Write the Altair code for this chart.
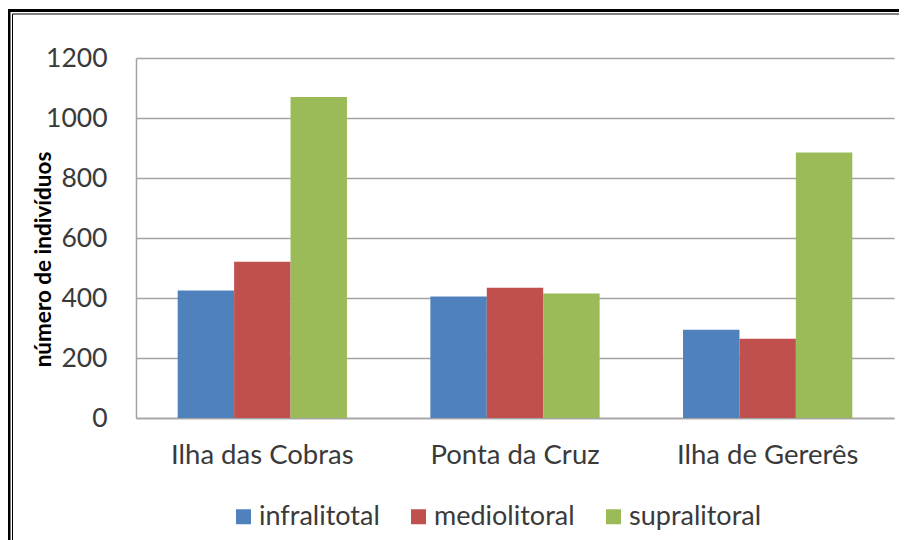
import altair as alt
import pandas as pd

sites = ["Ilha das Cobras", "Ponta da Cruz", "Ilha de Gererês"]
zones = ["infralitotal", "mediolitoral", "supralitoral"]
infralitotal = [425, 405, 294]
mediolitoral = [521, 434, 264]
supralitoral = [1070, 415, 885]
colors = ["#4F81BD", "#C0504D", "#9BBB59"]
y_ticks = [0, 200, 400, 600, 800, 1000, 1200]

rows = []
for z, vals in zip(zones, [infralitotal, mediolitoral, supralitoral]):
    for s, v in zip(sites, vals):
        rows.append({"local": s, "zona": z, "valor": v})
df = pd.DataFrame(rows)

FONT = "Lato"
TXT = "#3a3a3a"
GRID = "#a3a3a3"

bars = alt.Chart(df).mark_bar().encode(
    x=alt.X(
        "local:N", sort=sites, title=None,
        scale=alt.Scale(paddingInner=0.33, paddingOuter=0.165),
        axis=alt.Axis(labelAngle=0, labelFontSize=27.5, labelFont=FONT, labelColor=TXT, labelLimit=0,
                      labelBaseline="alphabetic", labelPadding=45, ticks=False, tickSize=0,
                      domainColor=GRID, domainWidth=1.5, grid=False),
    ),
    xOffset=alt.XOffset("zona:N", sort=zones, scale=alt.Scale(paddingInner=0, paddingOuter=0)),
    y=alt.Y(
        "valor:Q", scale=alt.Scale(domain=[0, 1200], nice=False),
        axis=alt.Axis(values=y_ticks, format="d", title="número de indivíduos", labelFontSize=26.5,
                      labelFont=FONT, labelColor=TXT, labelPadding=29, ticks=False, tickSize=0,
                      domainColor=GRID, domainWidth=1.5, gridColor=GRID, gridWidth=1.5,
                      titleFont=FONT, titleFontSize=22.5, titleFontWeight="bold", titleColor="#000000",
                      titleAngle=270, titleX=-93, titleY=201, titleAlign="center", titleBaseline="middle"),
    ),
    color=alt.Color(
        "zona:N", sort=zones, scale=alt.Scale(domain=zones, range=colors),
        legend=alt.Legend(orient="none", legendX=94, legendY=445, direction="horizontal", title=None,
                          symbolType="square", symbolSize=225, symbolStrokeWidth=0,
                          labelFontSize=27, labelFont=FONT, labelColor=TXT, labelOffset=2,
                          labelLimit=0, columnPadding=25, padding=0),
    ),
)

frame_df = pd.DataFrame({"k": [0]})
frame_outer = alt.Chart(frame_df).mark_rect(fillOpacity=0, stroke="#000000", strokeWidth=3).encode(
    x=alt.value(-127), x2=alt.value(1000), y=alt.value(-47.5), y2=alt.value(1000)
)
frame_inner = alt.Chart(frame_df).mark_rect(fillOpacity=0, stroke="#000000", strokeWidth=1).encode(
    x=alt.value(-123.5), x2=alt.value(1000), y=alt.value(-44), y2=alt.value(1000)
)

chart = alt.layer(bars, frame_outer, frame_inner).properties(
    width=758, height=360,
    autosize=alt.AutoSizeParams(type="none"),
    padding={"left": 128, "top": 50, "right": 5, "bottom": 122},
    background="white",
).configure_view(stroke=None)

chart.save("out.html", embed_options={"renderer": "svg", "actions": False})
